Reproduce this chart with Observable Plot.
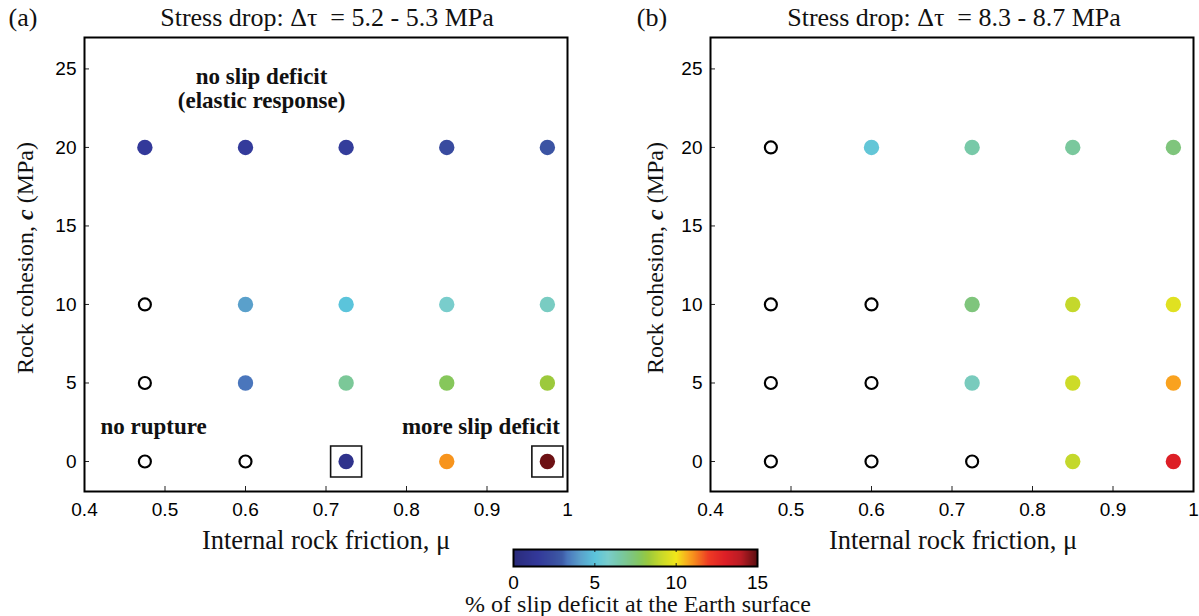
<!DOCTYPE html>
<html>
<head>
<meta charset="utf-8">
<script src="https://cdn.jsdelivr.net/npm/d3@7"></script>
<script src="https://cdn.jsdelivr.net/npm/@observablehq/plot@0.6"></script>
<style>
  body { margin: 0; background: #fff; }
  #root { position: relative; width: 1199px; height: 616px; overflow: hidden; background: #fff; color: #000; }
  #root svg { position: absolute; overflow: visible; }
  .lbl { position: absolute; transform: translate(-50%, -50%); white-space: nowrap;
         font-family: "Liberation Serif", "Times New Roman", serif; color: #111; line-height: 1; }
  .rot { transform: translate(-50%, -50%) rotate(-90deg); }
</style>
</head>
<body>
<div id="root"></div>
<script>
// ---------------- data ----------------
const mu = [0.475, 0.6, 0.725, 0.85, 0.975];          // internal rock friction
const cohesion = [20, 10, 5, 0];                       // rock cohesion (MPa), rows
// % of slip deficit at the Earth surface (null = no rupture)
const deficitA = [
  [1.5, 1.6, 1.7, 2.3, 2.7],
  [null, 4.1, 5.0, 5.8, 6.0],
  [null, 3.3, 6.8, 7.8, 8.3],
  [null, null, 0.8, 11.0, 14.8]
];
const deficitB = [
  [null, 5.2, 6.5, 6.7, 7.3],
  [null, null, 7.3, 9.0, 9.6],
  [null, null, 6.1, 9.2, 10.8],
  [null, null, null, 9.0, 13.0]
];
const boxedMuA = [0.725, 0.975];
const boxedCohA = [0, 0];

const xTicks = [0.4, 0.5, 0.6, 0.7, 0.8, 0.9, 1];
const xTickLabels = ["0.4", "0.5", "0.6", "0.7", "0.8", "0.9", "1"];
const yTicks = [0, 5, 10, 15, 20, 25];
const cbTicks = [0, 5, 10, 15];

const annoText = ["no slip deficit", "(elastic response)", "no rupture", "more slip deficit"];
const annoMu = [0.62, 0.62, 0.4199, 0.9906];
const annoCoh = [24.5, 23.0, 2.2, 2.2];

// colormap stops (value -> colour)
const cmapValues = [0, 1.5, 2.5, 3, 3.3, 4.1, 5, 5.8, 6.5, 7.3, 7.8, 8.3, 9, 10, 10.8, 11, 12, 13, 14, 15];
const cmapColors = ["#2a2b7b", "#33399a", "#3a4fa0", "#3e5ca8", "#4a76bc", "#5aa0cb", "#5bc4db", "#79cdcc",
                    "#78c9a8", "#7fc57c", "#86c75b", "#9cc93c", "#c4d82c", "#f2e71a", "#f9a21f", "#f7941d",
                    "#ee3a24", "#dd1f26", "#b81c24", "#5a0e10"];

// ---------------- helpers ----------------
const cmap = d3.scaleLinear().domain(cmapValues).range(cmapColors).interpolate(d3.interpolateRgb).clamp(true);
const colorScale = {type: "linear", domain: [0, 15], interpolate: t => cmap(t * 15)};

function table(values) {
  const rows = [];
  cohesion.forEach((c, i) => mu.forEach((m, j) => rows.push({mu: m, c, v: values[i][j]})));
  return rows;
}

const SANS = '"Liberation Sans", Arial, Helvetica, sans-serif';
const SERIF = '"Liberation Serif", "Times New Roman", serif';
const FW = 483, FH = 454;

function panel(values, marginLeft, withAnno) {
  const rows = table(values);
  const width = marginLeft + FW + 4;
  const marks = [
    Plot.ruleX(xTicks, {x: d => d, insetTop: FH - 5, stroke: "#222", strokeWidth: 1}),
    Plot.ruleY(yTicks, {y: d => d, insetRight: FW - 5, stroke: "#222", strokeWidth: 1}),
    Plot.axisX({ticks: xTicks, tickSize: 0, tickPadding: 11, tickFormat: d => xTickLabels[xTicks.indexOf(d)], label: null}),
    Plot.axisY({ticks: yTicks, tickSize: 0, tickPadding: 8, label: null}),
    Plot.dot(rows.filter(d => d.v != null), {x: "mu", y: "c", fill: "v", r: 7.7}),
    Plot.dot(rows.filter(d => d.v == null), {x: "mu", y: "c", r: 6, stroke: "#000", strokeWidth: 2.2, fill: "#fff"})
  ];
  if (withAnno) {
    const anno = annoText.map((t, i) => ({t, mu: annoMu[i], c: annoCoh[i]}));
    const common = {x: "mu", y: "c", text: "t", fontFamily: SERIF, fontWeight: "bold", fontSize: 23, fill: "#111", lineAnchor: "middle"};
    marks.push(
      Plot.dot(boxedMuA.map((m, i) => ({mu: m, c: boxedCohA[i]})), {x: "mu", y: "c", symbol: "square", r: 17.5, stroke: "#111", strokeWidth: 1.6, fill: "none"}),
      Plot.text(anno.slice(0, 2), {...common, textAnchor: "middle"}),
      Plot.text(anno.slice(2, 3), {...common, textAnchor: "start"}),
      Plot.text(anno.slice(3, 4), {...common, textAnchor: "end"})
    );
  }
  marks.push(Plot.frame({stroke: "#000", strokeWidth: 2}));
  return Plot.plot({
    width, height: 491,
    marginLeft, marginRight: 4, marginTop: 7, marginBottom: 30,
    x: {domain: [0.4, 1]},
    y: {domain: [-1.91, 27.0]},
    color: colorScale,
    style: {fontFamily: SANS, fontSize: "19px", color: "#000", overflow: "visible"},
    marks
  });
}

const root = document.getElementById("root");

const pa = panel(deficitA, 84, true);
pa.style.left = "0px"; pa.style.top = "30px";
root.appendChild(pa);

const pb = panel(deficitB, 110, false);
pb.style.left = "600px"; pb.style.top = "30px";
root.appendChild(pb);

// colour bar
const cb = Plot.plot({
  width: 270, height: 52,
  marginLeft: 13, marginRight: 13, marginTop: 9, marginBottom: 26,
  x: {domain: [0, 15]},
  y: {domain: [0, 1], axis: null},
  color: colorScale,
  style: {fontFamily: SANS, fontSize: "19px", color: "#000", overflow: "visible"},
  marks: [
    Plot.raster({fill: (x, y) => x, x1: 0, x2: 15, y1: 0, y2: 1, width: 244, height: 1}),
    Plot.ruleX([5, 10], {x: d => d, insetTop: 14, stroke: "#222"}),
    Plot.ruleX([5, 10], {x: d => d, insetBottom: 14, stroke: "#222"}),
    Plot.frame({stroke: "#000", strokeWidth: 2}),
    Plot.axisX({ticks: cbTicks, tickSize: 0, tickPadding: 9, label: null})
  ]
});
cb.style.left = "500px"; cb.style.top = "540px"; cb.style.zIndex = 2;
root.appendChild(cb);

// ---------------- HTML text ----------------
function label(html, x, y, size, cls) {
  const d = document.createElement("div");
  d.className = "lbl" + (cls ? " " + cls : "");
  d.style.left = x + "px"; d.style.top = y + "px"; d.style.fontSize = size + "px";
  d.innerHTML = html;
  root.appendChild(d);
}
label("(a)", 23, 18, 26);
label("(b)", 652, 18, 26);
label("Stress drop: &Delta;&tau;&nbsp; = 5.2 - 5.3 MPa", 327, 18, 26);
label("Stress drop: &Delta;&tau;&nbsp; = 8.3 - 8.7 MPa", 954, 18, 26);
label("Rock cohesion, <b><i>c</i></b> (MPa)", 25, 258, 24, "rot");
label("Rock cohesion, <b><i>c</i></b> (MPa)", 655, 258, 24, "rot");
label("Internal rock friction, &mu;", 326, 540, 26.5);
label("Internal rock friction, &mu;", 953, 540, 26.5);
label("% of slip deficit at the Earth surface", 638, 604, 24);
</script>
</body>
</html>
